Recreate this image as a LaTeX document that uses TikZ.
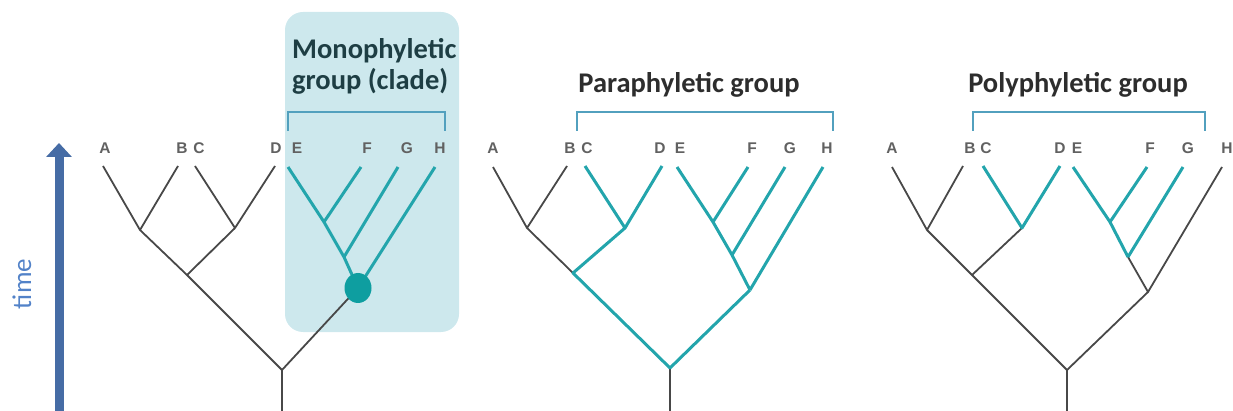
\documentclass[tikz,border=0pt]{standalone}
\usepackage{fontspec}
\setmainfont{Carlito}
\newfontfamily\tipfont{Liberation Sans}
\usepackage{xcolor}
\usetikzlibrary{shapes.geometric, arrows.meta}
\definecolor{cladeteal}{RGB}{35,165,172}
\definecolor{dotteal}{RGB}{14,158,160}
\definecolor{branchgray}{RGB}{72,72,72}
\definecolor{boxcyan}{RGB}{205,232,237}
\definecolor{bracketblue}{RGB}{82,160,190}
\definecolor{timeblue}{RGB}{70,108,165}
\definecolor{timetext}{RGB}{82,130,200}
\definecolor{titlegray}{RGB}{45,45,45}
\definecolor{titleteal}{RGB}{30,62,68}
\tikzstyle{leaf} = [font=\tipfont\bfseries\fontsize{15.5}{15.5}\selectfont, text=black!62, inner sep=0pt]
\tikzstyle{branch} = [draw=branchgray, line width=1.8pt, line join=round]
\tikzstyle{clade} = [draw=cladeteal, line width=3pt, line join=round]
\tikzstyle{bracket} = [draw=bracketblue, line width=2pt]
\tikzstyle{title} = [font=\bfseries\fontsize{28.5}{31}\selectfont, text=titlegray, inner sep=0pt]
\tikzstyle{dot} = [ellipse, fill=dotteal, minimum width=27pt, minimum height=30pt, inner sep=0pt]
\tikzstyle{timearrow} = [draw=timeblue, line width=9pt, -{Triangle[width=25pt,length=14pt]}]
\begin{document}
\begin{tikzpicture}[x=1pt, y=-1pt]
      \useasboundingbox (0,0) rectangle (1233,411);
      % time axis
      \coordinate (timeBot) at (59,411);
      \coordinate (timeTop) at (59,143);
      \draw [timearrow] (timeBot) -- (timeTop);
      \node (timeLabel) [font=\fontsize{27}{27}\selectfont, text=timetext, rotate=90] at (22,284) {time};

      % monophyletic tree
      \fill [boxcyan, rounded corners=18pt] (285,12) rectangle (459,332);
      \coordinate (monoA) at (103,166);
      \coordinate (monoB) at (178,166);
      \coordinate (monoC) at (195,166);
      \coordinate (monoD) at (275,166);
      \coordinate (monoE) at (288,167);
      \coordinate (monoF) at (361,167);
      \coordinate (monoG) at (398,167);
      \coordinate (monoH) at (435,167);
      \coordinate (monoAB) at (140,230);
      \coordinate (monoCD) at (235,228);
      \coordinate (monoABCD) at (187,275);
      \coordinate (monoEF) at (324,222);
      \coordinate (monoEFG) at (344,257);
      \coordinate (monoEFGH) at (358,288);
      \coordinate (monoRoot) at (282,370);
      \coordinate (monoBase) at (282,411);
      \draw [branch] (monoA) -- (monoAB) -- (monoABCD) -- (monoRoot) -- (monoEFGH);
      \draw [branch] (monoB) -- (monoAB);
      \draw [branch] (monoC) -- (monoCD) -- (monoABCD);
      \draw [branch] (monoD) -- (monoCD);
      \draw [branch] (monoRoot) -- (monoBase);
      \draw [clade] (monoE) -- (monoEF) -- (monoEFG) -- (monoEFGH);
      \draw [clade] (monoF) -- (monoEF);
      \draw [clade] (monoG) -- (monoEFG);
      \draw [clade] (monoH) -- (monoEFGH);
      \node (monoDot) [dot] at (monoEFGH) {};
      \coordinate (monoBrL) at (288,131);
      \coordinate (monoBrR) at (445,131);
      \draw [bracket] (monoBrL) -- ++(0,-19) -| (monoBrR);
      \node (monoTitle) [title, text=titleteal, align=left, anchor=north west] at (292,38) {Monophyletic\\group (clade)};
      \node (monoLabA) [leaf] at (105,148) {A};
      \node (monoLabB) [leaf] at (182,148) {B};
      \node (monoLabC) [leaf] at (199,148) {C};
      \node (monoLabD) [leaf] at (276,148) {D};
      \node (monoLabE) [leaf] at (297,148) {E};
      \node (monoLabF) [leaf] at (367,148) {F};
      \node (monoLabG) [leaf] at (407,148) {G};
      \node (monoLabH) [leaf] at (440,148) {H};

      % paraphyletic tree
      \coordinate (paraA) at (493,167);
      \coordinate (paraB) at (567,166);
      \coordinate (paraC) at (585,166);
      \coordinate (paraD) at (662,166);
      \coordinate (paraE) at (677,167);
      \coordinate (paraF) at (748,167);
      \coordinate (paraG) at (785,167);
      \coordinate (paraH) at (823,167);
      \coordinate (paraAB) at (527,228);
      \coordinate (paraCD) at (625,228);
      \coordinate (paraABCD) at (573,273);
      \coordinate (paraEF) at (713,222);
      \coordinate (paraEFG) at (732,255);
      \coordinate (paraEFGH) at (750,290);
      \coordinate (paraRoot) at (670,368);
      \coordinate (paraBase) at (670,411);
      \draw [branch] (paraA) -- (paraAB) -- (paraABCD);
      \draw [branch] (paraB) -- (paraAB);
      \draw [branch] (paraRoot) -- (paraBase);
      \draw [clade] (paraC) -- (paraCD) -- (paraABCD) -- (paraRoot) -- (paraEFGH);
      \draw [clade] (paraD) -- (paraCD);
      \draw [clade] (paraE) -- (paraEF) -- (paraEFG) -- (paraEFGH);
      \draw [clade] (paraF) -- (paraEF);
      \draw [clade] (paraG) -- (paraEFG);
      \draw [clade] (paraH) -- (paraEFGH);
      \coordinate (paraBrL) at (577,131);
      \coordinate (paraBrR) at (833,131);
      \draw [bracket] (paraBrL) -- ++(0,-19) -| (paraBrR);
      \node (paraTitle) [title, anchor=base] at (689,93) {Paraphyletic group};
      \node (paraLabA) [leaf] at (493,148) {A};
      \node (paraLabB) [leaf] at (570,148) {B};
      \node (paraLabC) [leaf] at (587,148) {C};
      \node (paraLabD) [leaf] at (660,148) {D};
      \node (paraLabE) [leaf] at (680,148) {E};
      \node (paraLabF) [leaf] at (752,148) {F};
      \node (paraLabG) [leaf] at (790,148) {G};
      \node (paraLabH) [leaf] at (827,148) {H};

      % polyphyletic tree
      \coordinate (polyA) at (892,167);
      \coordinate (polyB) at (963,166);
      \coordinate (polyC) at (983,166);
      \coordinate (polyD) at (1060,166);
      \coordinate (polyE) at (1073,167);
      \coordinate (polyF) at (1147,167);
      \coordinate (polyG) at (1183,167);
      \coordinate (polyH) at (1222,167);
      \coordinate (polyAB) at (927,230);
      \coordinate (polyCD) at (1022,228);
      \coordinate (polyABCD) at (972,275);
      \coordinate (polyEF) at (1110,222);
      \coordinate (polyEFG) at (1128,257);
      \coordinate (polyEFGH) at (1148,292);
      \coordinate (polyRoot) at (1067,370);
      \coordinate (polyBase) at (1067,411);
      \draw [branch] (polyA) -- (polyAB) -- (polyABCD) -- (polyRoot) -- (polyEFGH) -- (polyH);
      \draw [branch] (polyB) -- (polyAB);
      \draw [branch] (polyCD) -- (polyABCD);
      \draw [branch] (polyEFG) -- (polyEFGH);
      \draw [branch] (polyRoot) -- (polyBase);
      \draw [clade] (polyC) -- (polyCD) -- (polyD);
      \draw [clade] (polyE) -- (polyEF) -- (polyEFG);
      \draw [clade] (polyF) -- (polyEF);
      \draw [clade] (polyG) -- (polyEFG);
      \coordinate (polyBrL) at (973,131);
      \coordinate (polyBrR) at (1205,131);
      \draw [bracket] (polyBrL) -- ++(0,-19) -| (polyBrR);
      \node (polyTitle) [title, anchor=base] at (1078,93) {Polyphyletic group};
      \node (polyLabA) [leaf] at (892,148) {A};
      \node (polyLabB) [leaf] at (970,148) {B};
      \node (polyLabC) [leaf] at (986,148) {C};
      \node (polyLabD) [leaf] at (1060,148) {D};
      \node (polyLabE) [leaf] at (1077,148) {E};
      \node (polyLabF) [leaf] at (1150,148) {F};
      \node (polyLabG) [leaf] at (1188,148) {G};
      \node (polyLabH) [leaf] at (1227,148) {H};
    \end{tikzpicture}
\end{document}
